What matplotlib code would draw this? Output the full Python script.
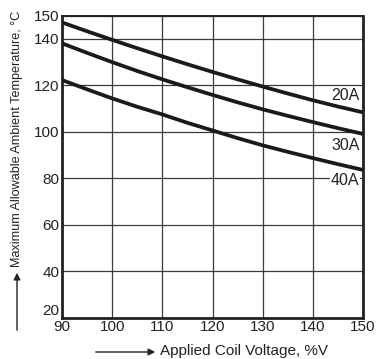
import matplotlib.pyplot as plt

plt.rcParams['font.family'] = ['Liberation Sans', 'DejaVu Sans']

# coil voltage, %V
voltage = [90, 95, 100, 105, 110, 115, 120, 125, 130, 135, 140, 145, 150]
# max ambient temperature, deg C, per contact current
temp_20a = [147.1, 143.3, 139.6, 136.0, 132.5, 129.1, 125.8, 122.6, 119.5, 116.5, 113.6, 110.9, 108.4]
temp_30a = [138.1, 134.0, 130.0, 126.2, 122.6, 119.2, 115.9, 112.7, 109.7, 106.9, 104.2, 101.6, 99.1]
temp_40a = [122.3, 118.3, 114.4, 110.8, 107.5, 103.9, 100.6, 97.3, 94.2, 91.4, 88.7, 86.1, 83.6]

curve_labels = ['20A', '30A', '40A']
label_y = [115.8, 94.3, 79.2]

x_ticks = [90, 100, 110, 120, 130, 140, 150]
y_ticks = [20, 40, 60, 80, 100, 120, 140, 150]

fig = plt.figure(figsize=(3.78, 3.59), dpi=100)
ax = fig.add_axes([62 / 378, 1 - 317.7 / 359, 301 / 378, 302 / 359])

for series in (temp_20a, temp_30a, temp_40a):
    ax.plot(voltage, series, color='#1a1a1a', lw=2.7, solid_capstyle='butt',
            solid_joinstyle='round', zorder=3)

for lab, ly in zip(curve_labels, label_y):
    ax.text(149.3, ly, lab, ha='right', va='center', fontsize=11.5, color='#222222',
            bbox=dict(facecolor='white', edgecolor='none', pad=0.5), zorder=4)

ax.set_xlim(90, 150)
ax.set_ylim(20, 150)
ax.set_xticks(x_ticks)
ax.set_yticks(y_ticks)
ax.grid(True, color='#3a3a3a', lw=0.9)
ax.tick_params(length=0, labelsize=11, colors='#222222', pad=2)
# the lowest y label sits above the axis corner so it clears "90"
ax.yaxis.get_major_ticks()[0].label1.set_va('bottom')
for side in ('left', 'bottom', 'right'):
    ax.spines[side].set_linewidth(2.0)
ax.spines['top'].set_linewidth(1.4)
for sp in ax.spines.values():
    sp.set_color('#222222')

# axis titles with arrows, as on the datasheet
fig.text(17 / 378, 1 - 267 / 359, 'Maximum Allowable Ambient Temperature, \u00b0C',
         rotation=90, ha='center', va='bottom', fontsize=9.1, color='#222222')
fig.text(160 / 378, 1 - 351 / 359, 'Applied Coil Voltage, %V',
         ha='left', va='center', fontsize=11, color='#222222')
fig.add_artist(plt.Annotation('', xy=(17 / 378, 1 - 270 / 359), xytext=(17 / 378, 1 - 333 / 359),
                              xycoords='figure fraction', textcoords='figure fraction',
                              arrowprops=dict(arrowstyle='-|>', color='#222222', lw=1,
                                              mutation_scale=10)))
fig.add_artist(plt.Annotation('', xy=(158 / 378, 1 - 352 / 359), xytext=(93 / 378, 1 - 352 / 359),
                              xycoords='figure fraction', textcoords='figure fraction',
                              arrowprops=dict(arrowstyle='-|>', color='#222222', lw=1,
                                              mutation_scale=10)))

fig.savefig('out.png', dpi=100)
